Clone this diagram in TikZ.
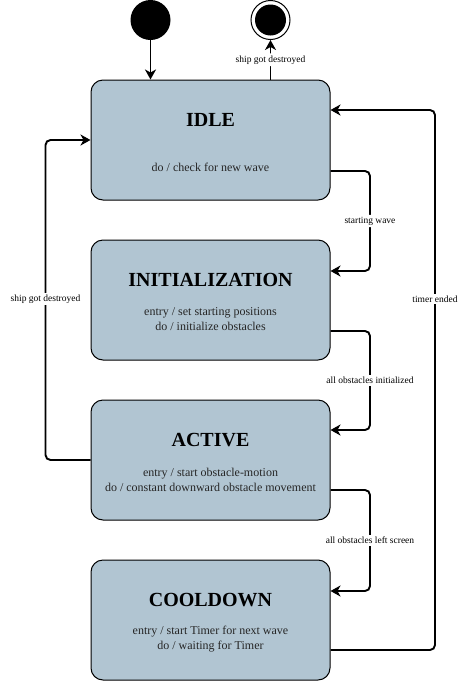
\documentclass[tikz,border=0pt]{standalone}
\usepackage{fontspec}
\setmainfont{Liberation Serif}
\usetikzlibrary{arrows.meta}
\definecolor{statefill}{RGB}{177,197,210}
\tikzset{
  statebox/.style={draw=black, line width=1pt, fill=statefill, rounded corners=12pt,
    minimum width=239pt, minimum height=120pt, inner sep=0pt},
  titletext/.style={font=\fontsize{20}{24}\selectfont\bfseries, inner sep=0pt},
  bodytext/.style={font=\fontsize{12}{15}\selectfont, align=center, inner sep=0pt, text=black!85},
  conn/.style={line width=1.9pt, rounded corners=5pt, -{Stealth[length=10pt,width=11pt,inset=3pt]}},
  lbl/.style={fill=white, font=\fontsize{9.5}{11}\selectfont, inner sep=2pt}
}
\begin{document}
\begin{tikzpicture}[x=1pt,y=-1pt]
\useasboundingbox (0,0) rectangle (471,681);
% states
\node[statebox] (idle) at (210.5,140) {};
\node[statebox] (init) at (210.5,300) {};
\node[statebox] (active) at (210.5,460) {};
\node[statebox] (cool) at (210.5,620) {};
% titles
\node[titletext] (idleT) at (210.5,120) {IDLE};
\node[titletext] (initT) at (210.5,280) {INITIALIZATION};
\node[titletext] (activeT) at (210.5,440) {ACTIVE};
\node[titletext] (coolT) at (210.5,600) {COOLDOWN};
% bodies
\node[bodytext] (idleB) at (210.5,167) {do / check for new wave};
\node[bodytext] (initB) at (210.5,319.5) {entry / set starting positions\\do / initialize obstacles};
\node[bodytext] (activeB) at (210.5,479.5) {entry / start obstacle-motion\\do / constant downward obstacle movement};
\node[bodytext] (coolB) at (210.5,639.5) {entry / start Timer for next wave\\do / waiting for Timer};
% start and end
\node[circle, fill=black, minimum size=40pt, inner sep=0pt] (start) at (150.5,20) {};
\node[circle, draw=black, line width=1pt, fill=white, minimum size=39pt, inner sep=0pt] (final) at (270.5,20) {};
\fill[black] (final.center) circle (15.5);
% connectors
\draw[conn] (start.south) -- (start.south |- idle.north);
\draw[conn] (final.south |- idle.north) -- node[lbl]{ship got destroyed} (final.south);
\draw[conn] ([yshift=-31pt]idle.east) -- ++(39.5,0) -- node[lbl]{starting wave} ++(0,100) -- ([yshift=29pt]init.east);
\draw[conn] ([yshift=-31pt]init.east) -- ++(39.5,0) -- node[lbl]{all obstacles initialized} ++(0,99) -- ([yshift=30pt]active.east);
\draw[conn] ([yshift=-30pt]active.east) -- ++(39.5,0) -- node[lbl]{all obstacles left screen} ++(0,101) -- ([yshift=29pt]cool.east);
\draw[conn] ([yshift=-30pt]cool.east) -- ++(104.5,0) |- ([yshift=30pt]idle.east);
\node[lbl] (timerL) at (435,299) {timer ended};
\draw[conn] (active.west) -- ++(-45,0) |- (idle.west);
\node[lbl] (shipL) at (45.5,299) {ship got destroyed};
\end{tikzpicture}
\end{document}
